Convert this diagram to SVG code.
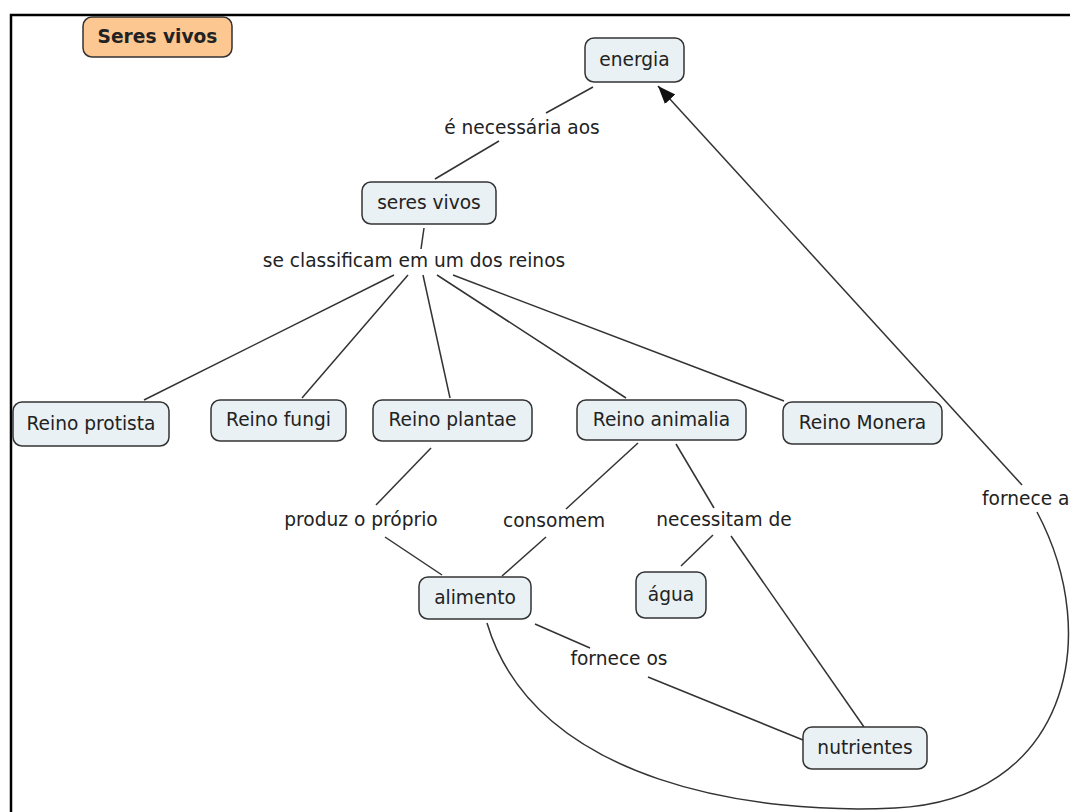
<svg xmlns="http://www.w3.org/2000/svg" width="1070" height="812" viewBox="0 0 1070 812">
<style>
.node rect{fill:#E9F1F4;stroke:#333;stroke-width:1.5}
.title rect{fill:#FDC791;stroke:#333;stroke-width:1.5}
text{font-family:"DejaVu Sans","Liberation Sans",sans-serif;font-size:18.6px;fill:#222;text-anchor:middle}
.title text{font-weight:bold}
#connectors line,#connectors path{stroke:#333;stroke-width:1.5;fill:none}
</style>
<defs>
<marker id="arrow" markerUnits="userSpaceOnUse" markerWidth="20" markerHeight="16" refX="18" refY="7" orient="auto">
<path d="M0,0 L18,7 L0,14 Z" fill="#111"/>
</marker>
</defs>
<rect x="11" y="15" width="1100" height="900" fill="#fff" stroke="#000" stroke-width="2.5"/>
<g id="connectors">
<line x1="593" y1="87" x2="546" y2="113"/>
<line x1="499" y1="141" x2="435" y2="179"/>
<line x1="424" y1="228" x2="421" y2="249"/>
<line x1="394" y1="275" x2="144" y2="400"/>
<line x1="408" y1="275" x2="302" y2="398"/>
<line x1="423" y1="275" x2="450" y2="398"/>
<line x1="437" y1="275" x2="626" y2="398"/>
<line x1="453" y1="275" x2="784" y2="401"/>
<line x1="431" y1="448" x2="376" y2="505"/>
<line x1="385" y1="537" x2="442" y2="575"/>
<line x1="638" y1="443" x2="566" y2="509"/>
<line x1="546" y1="537" x2="502" y2="576"/>
<line x1="676" y1="444" x2="714" y2="508"/>
<line x1="713" y1="535" x2="681" y2="566"/>
<line x1="731" y1="536" x2="864" y2="727"/>
<line x1="535" y1="624" x2="590" y2="648"/>
<line x1="648" y1="677" x2="803" y2="740"/>
<path d="M487,623 C535,785 760,815 895,808 C1065,800 1105,640 1037,512"/>
<line x1="1022" y1="485" x2="658" y2="86" marker-end="url(#arrow)"/>
</g>
<g id="title" class="title"><rect x="83" y="17" width="149" height="40" rx="9"/><text x="157.5" y="43">Seres vivos</text></g>
<g id="energia" class="node"><rect x="585" y="38" width="99" height="44" rx="9"/><text x="634.5" y="66">energia</text></g>
<g id="seres-vivos" class="node"><rect x="362" y="182" width="134" height="42" rx="9"/><text x="429" y="209">seres vivos</text></g>
<g id="reino-protista" class="node"><rect x="13" y="402" width="156" height="44" rx="9"/><text x="91" y="430">Reino protista</text></g>
<g id="reino-fungi" class="node"><rect x="211" y="400" width="135" height="41" rx="9"/><text x="278.5" y="426">Reino fungi</text></g>
<g id="reino-plantae" class="node"><rect x="373" y="400" width="159" height="41" rx="9"/><text x="452.5" y="426">Reino plantae</text></g>
<g id="reino-animalia" class="node"><rect x="577" y="400" width="169" height="40" rx="9"/><text x="661.5" y="426">Reino animalia</text></g>
<g id="reino-monera" class="node"><rect x="783" y="402" width="159" height="42" rx="9"/><text x="862.5" y="429">Reino Monera</text></g>
<g id="alimento" class="node"><rect x="419" y="577" width="112" height="42" rx="9"/><text x="475" y="604">alimento</text></g>
<g id="agua" class="node"><rect x="636" y="572" width="70" height="46" rx="9"/><text x="671" y="601">água</text></g>
<g id="nutrientes" class="node"><rect x="803" y="727" width="124" height="42" rx="9"/><text x="865" y="754">nutrientes</text></g>
<g id="labels">
<text x="522" y="134">é necessária aos</text>
<text x="414" y="267">se classificam em um dos reinos</text>
<text x="361" y="526">produz o próprio</text>
<text x="554" y="527">consomem</text>
<text x="724" y="526">necessitam de</text>
<text x="619" y="665">fornece os</text>
<text x="982" y="505" style="text-anchor:start">fornece a</text>
</g>
</svg>
